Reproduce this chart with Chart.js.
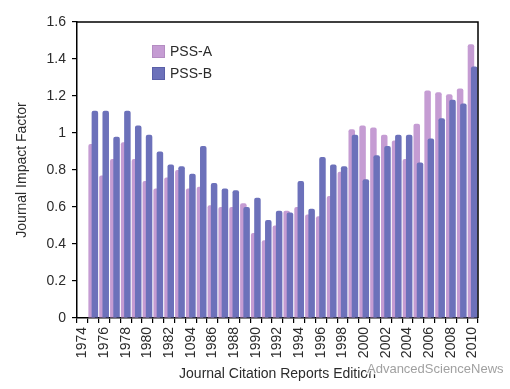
<!DOCTYPE html>
<html>
<head>
<meta charset="utf-8">
<script src="https://cdn.jsdelivr.net/npm/chart.js@4/dist/chart.umd.min.js"></script>
<style>
  html, body { margin: 0; padding: 0; background: #fff; }
  #wrap { width: 510px; height: 389px; position: relative; }
</style>
</head>
<body>
<div id="wrap"><canvas id="c" width="510" height="389"></canvas></div>
<script>
const years = ['1974','1975','1976','1977','1978','1979','1980','1981','1982','1983','1984','1985','1986','1987','1988','1989','1990','1991','1992','1993','1994','1995','1996','1997','1998','1999','2000','2001','2002','2003','2004','2005','2006','2007','2008','2009','2010'];
const pssA = [null,0.94,0.77,0.86,0.95,0.86,0.74,0.70,0.76,0.80,0.70,0.71,0.61,0.60,0.60,0.62,0.46,0.42,0.50,0.58,0.60,0.56,0.55,0.66,0.79,1.02,1.04,1.03,0.99,0.96,0.86,1.05,1.23,1.22,1.21,1.24,1.48];
const pssB = [null,1.12,1.12,0.98,1.12,1.04,0.99,0.90,0.83,0.82,0.78,0.93,0.73,0.70,0.69,0.60,0.65,0.53,0.58,0.57,0.74,0.59,0.87,0.83,0.82,0.99,0.75,0.88,0.93,0.99,0.99,0.84,0.97,1.08,1.18,1.16,1.36];
const xTickLabels = ['1974','1976','1978','1980','1982','1094','1986','1988','1990','1992','1994','1996','1998','2000','2002','2004','2006','2008','2010'];
const yTickLabels = ['0','0.2','0.4','0.6','0.8','1','1.2','1.4','1.6'];
const seriesNames = ['PSS-A','PSS-B'];

const PINK = '#c59cd3';
const BLUE = '#6c71ba';
const FONT = "'Liberation Sans', Arial, sans-serif";
const TXT = '#2b2b2b';
const empty = years.map(() => null);

const barStyle = { categoryPercentage: 0.6, barPercentage: 2.0, borderWidth: 0, borderRadius: { topLeft: 2, topRight: 2 }, borderSkipped: 'start' };

const framePlugin = {
  id: 'frame',
  afterDatasetsDraw(chart) {
    const {ctx, chartArea: a} = chart;
    ctx.save();
    ctx.strokeStyle = '#000';
    ctx.lineWidth = 1.5;
    ctx.beginPath();
    ctx.moveTo(a.left, a.top);
    ctx.lineTo(a.right, a.top);
    ctx.lineTo(a.right, a.bottom);
    ctx.stroke();
    ctx.restore();
  }
};

const legendPlugin = {
  id: 'innerLegend',
  afterDraw(chart) {
    const ctx = chart.ctx;
    const ds = chart.data.datasets;
    const items = [
      {label: ds[0].label, color: ds[0].backgroundColor, edge: '#b48cc2'},
      {label: ds[1].label, color: ds[1].backgroundColor, edge: '#5a5fa8'}
    ];
    ctx.save();
    items.forEach((it, i) => {
      const y = 45 + i * 22;
      ctx.fillStyle = it.color;
      ctx.fillRect(152, y, 13, 13);
      ctx.strokeStyle = it.edge;
      ctx.lineWidth = 1;
      ctx.strokeRect(152.5, y + 0.5, 12, 12);
      ctx.fillStyle = TXT;
      ctx.font = '14px ' + FONT;
      ctx.textBaseline = 'middle';
      ctx.textAlign = 'left';
      ctx.fillText(it.label, 170, y + 7);
    });
    ctx.restore();
  }
};

const watermarkPlugin = {
  id: 'watermark',
  afterDraw(chart) {
    const ctx = chart.ctx;
    ctx.save();
    ctx.font = '13px ' + FONT;
    ctx.textBaseline = 'middle';
    ctx.textAlign = 'left';
    ctx.lineWidth = 2.5;
    ctx.strokeStyle = 'rgba(255,255,255,0.9)';
    ctx.strokeText('AdvancedScienceNews', 367, 369);
    ctx.fillStyle = 'rgba(150,150,150,0.9)';
    ctx.fillText('AdvancedScienceNews', 367, 369);
    ctx.restore();
  }
};

new Chart(document.getElementById('c'), {
  type: 'bar',
  data: {
    labels: years,
    datasets: [
      Object.assign({label: seriesNames[0], data: pssA, stack: 'L', backgroundColor: PINK, order: 2}, barStyle),
      Object.assign({label: seriesNames[1], data: pssB, stack: 'R', backgroundColor: BLUE, order: 1}, barStyle),
      Object.assign({label: '', data: empty, stack: 'L', backgroundColor: PINK, order: 0}, barStyle)
    ]
  },
  options: {
    responsive: false,
    animation: false,
    devicePixelRatio: 1,
    layout: { padding: { left: 10, right: 32, top: 22, bottom: 2 } },
    plugins: {
      legend: { display: false },
      tooltip: { enabled: false }
    },
    scales: {
      x: {
        type: 'category',
        offset: true,
        grid: { offset: true, drawOnChartArea: false, drawTicks: true, tickLength: 5, color: '#000', lineWidth: 1.2 },
        border: { display: true, color: '#000', width: 1.5 },
        ticks: {
          autoSkip: false, minRotation: 90, maxRotation: 90, padding: 4,
          color: TXT, font: { family: FONT, size: 14 },
          callback: (v, i) => (i % 2 === 0 ? xTickLabels[i / 2] : '')
        },
        title: { display: true, text: 'Journal Citation Reports Edition', color: TXT, font: { family: FONT, size: 14 }, padding: { top: 0, bottom: 4 } },
        afterFit: (s) => { s.height = 69; }
      },
      y: {
        min: 0, max: 1.6,
        stacked: false,
        grid: { drawOnChartArea: false, drawTicks: true, tickLength: 5, color: '#000', lineWidth: 1.2 },
        border: { display: true, color: '#000', width: 1.5 },
        ticks: {
          stepSize: 0.2, padding: 6, color: TXT, font: { family: FONT, size: 14 },
          callback: (v, i) => yTickLabels[i]
        },
        title: { display: true, text: 'Journal Impact Factor', color: TXT, font: { family: FONT, size: 14 }, padding: { top: 4, bottom: 0 } },
        afterFit: (s) => { s.width = 67; }
      }
    }
  },
  plugins: [framePlugin, legendPlugin, watermarkPlugin]
});
</script>
</body>
</html>
